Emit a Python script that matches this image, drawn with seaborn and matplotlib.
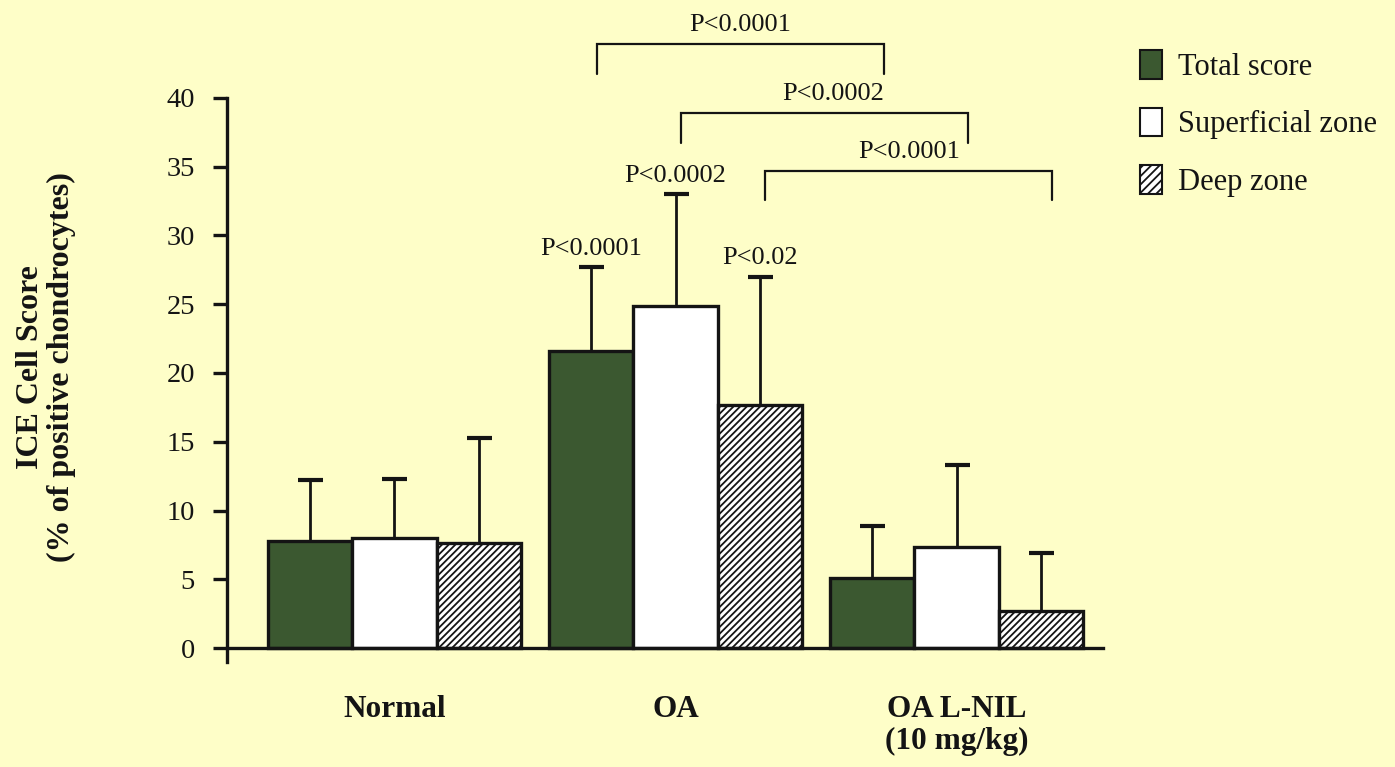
import numpy as np
import pandas as pd
import seaborn as sns
import matplotlib
matplotlib.use("Agg")
import matplotlib.pyplot as plt
from matplotlib.patches import Patch

# ---------------- data ----------------
groups = ["Normal", "OA", "OA L-NIL\n(10 mg/kg)"]
series = ["Total score", "Superficial zone", "Deep zone"]
total_mean = [7.8, 21.6, 5.1]
superficial_mean = [8.0, 24.9, 7.35]
deep_mean = [7.65, 17.7, 2.7]
total_sd = [4.4, 6.1, 3.8]
superficial_sd = [4.3, 8.1, 5.95]
deep_sd = [7.65, 9.3, 4.2]
y_ticks = [0, 5, 10, 15, 20, 25, 30, 35, 40]
oa_pvalues = ["P<0.0001", "P<0.0002", "P<0.02"]          # OA vs Normal, per series
bracket_pvalues = ["P<0.0001", "P<0.0002", "P<0.0001"]   # OA vs OA L-NIL, per series

means = [total_mean, superficial_mean, deep_mean]
sds = [total_sd, superficial_sd, deep_sd]
df = pd.DataFrame({
    "group": [g for s in series for g in groups],
    "series": [s for s in series for g in groups],
    "value": [v for m in means for v in m],
})

# ---------------- style ----------------
BG = "#FEFEC8"
GREEN = "#3b5830"
INK = "#141414"
sns.set_theme(style="white")
plt.rcParams["font.family"] = ["Liberation Serif", "DejaVu Serif"]
plt.rcParams["hatch.linewidth"] = 1.3
plt.rcParams["hatch.color"] = INK

W, H = 1395, 767
fig = plt.figure(figsize=(W / 100, H / 100), dpi=100)
fig.patch.set_facecolor(BG)
ax = fig.add_axes([227 / W, (H - 665) / H, (1103 - 227) / W, 665 / H])
ax.set_facecolor(BG)

sns.barplot(data=df, x="group", y="value", hue="series", order=groups,
            hue_order=series, palette=[GREEN, "white", "white"],
            saturation=1, width=0.9, gap=0, errorbar=None,
            edgecolor=INK, linewidth=2.4, legend=False, ax=ax)

bar_containers = list(ax.containers[:3])
for bar in bar_containers[2]:
    bar.set_hatch("/////")

px_per_unit = 13.75
ax.set_ylim((648 - 665) / px_per_unit, 648 / px_per_unit)
ax.set_xlim(-0.596, 2.521)

# error bars (upper only)
centers = []
for k, cont in enumerate(bar_containers):
    xs = [b.get_x() + b.get_width() / 2 for b in cont]
    hs = [b.get_height() for b in cont]
    centers.append(xs)
    eb = ax.errorbar(xs, hs, yerr=[np.zeros(len(hs)), sds[k]], fmt="none",
                     ecolor=INK, elinewidth=2.0, capsize=9, capthick=3.0,
                     zorder=1)
    eb[1][0].set_visible(False)   # hide the (zero-length) lower caps

# p-values above OA bars
tops = [[m + s for m, s in zip(means[k], sds[k])] for k in range(3)]
for k in range(3):
    ax.text(centers[k][1], tops[k][1] + 1.35, oa_pvalues[k], ha="center",
            va="center", fontsize=19, color=INK)

# brackets OA -> OA L-NIL
br_y = [43.9, 38.9, 34.7]
br_leg = 2.15
for k in range(3):
    x0 = centers[k][1] + 0.02
    x1 = centers[k][2] + 0.04
    y = br_y[k]
    ax.plot([x0, x0, x1, x1], [y - br_leg, y, y, y - br_leg], color=INK,
            lw=1.6, clip_on=False, solid_joinstyle="miter")
    ax.text((x0 + x1) / 2 + (0.03 if k == 1 else 0), y + 1.4, bracket_pvalues[k],
            ha="center", va="center", fontsize=19, color=INK)

# axes styling
for s in ["top", "right"]:
    ax.spines[s].set_visible(False)
ax.spines["bottom"].set_position(("data", 0))
ax.spines["left"].set_bounds(-1.0, 40)
for s in ["left", "bottom"]:
    ax.spines[s].set_color(INK)
    ax.spines[s].set_linewidth(2.4)

ax.set_yticks(y_ticks)
ax.set_yticklabels([str(t) for t in y_ticks])
ax.tick_params(axis="y", length=10, width=2.4, color=INK, pad=13,
               labelsize=20.5, labelcolor=INK, left=True)
ax.tick_params(axis="x", length=0, pad=34, labelsize=22.5, labelcolor=INK)
for lab in ax.get_xticklabels():
    lab.set_fontweight("bold")
    lab.set_linespacing(1.12)
ax.set_xlabel("")
ax.set_ylabel("")

fig.text(46 / W, 1 - 367 / H, "ICE Cell Score\n(% of positive chondrocytes)",
         rotation=90, ha="center", va="center", fontsize=23,
         fontweight="bold", color=INK, linespacing=1.05)

# legend
handles = [Patch(facecolor=GREEN, edgecolor=INK, linewidth=1.5),
           Patch(facecolor="white", edgecolor=INK, linewidth=1.5),
           Patch(facecolor="white", edgecolor=INK, linewidth=1.5, hatch="////")]
fig.legend(handles, series, loc="upper left",
           bbox_to_anchor=(1128 / W, 1 - 38 / H), frameon=False,
           fontsize=22, handlelength=0.7, handleheight=1.05,
           handletextpad=0.55, labelspacing=0.85, borderaxespad=0,
           labelcolor=INK)

fig.savefig("out.png", dpi=100, facecolor=BG)
